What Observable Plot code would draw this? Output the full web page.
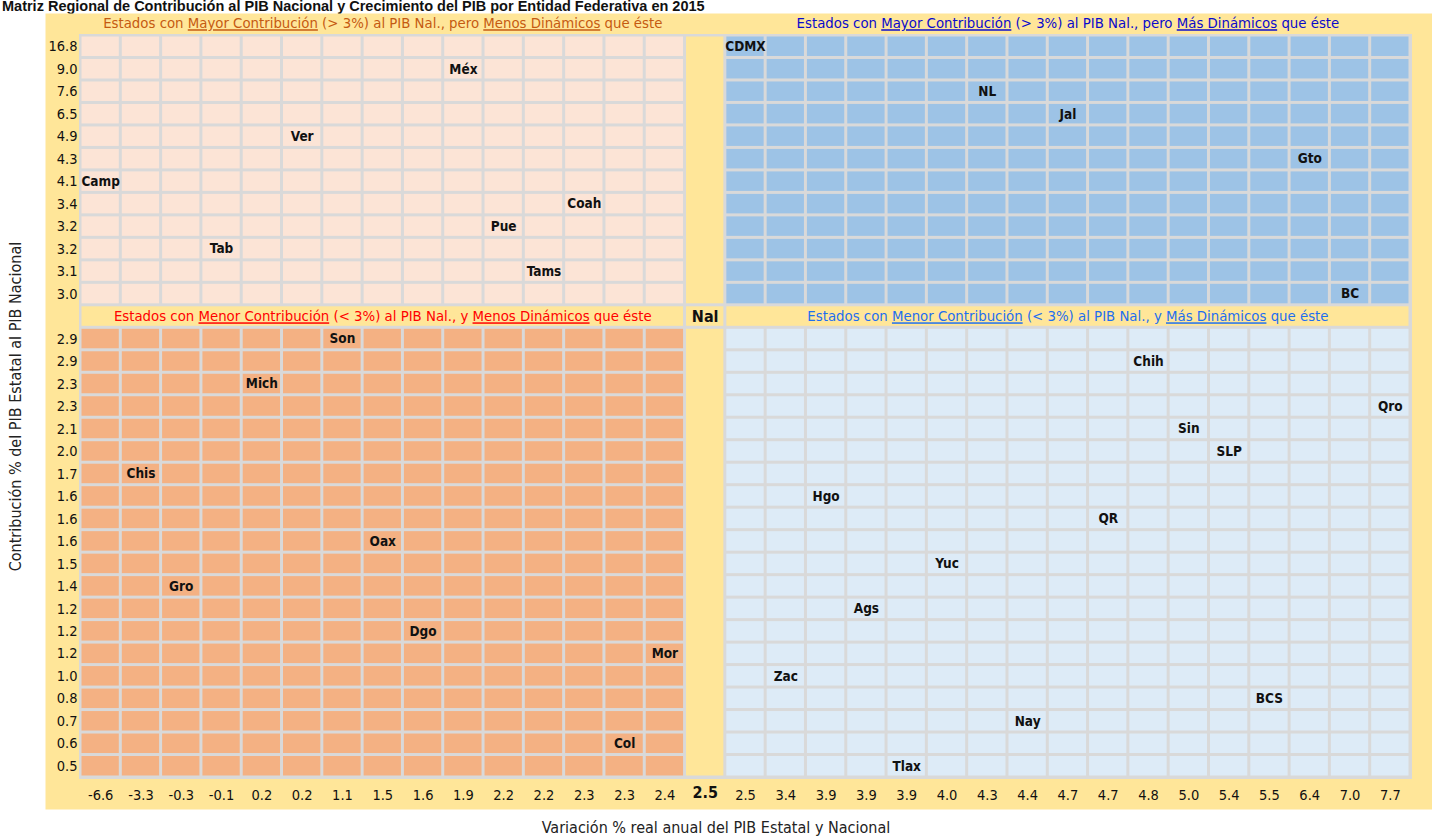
<!DOCTYPE html>
<html>
<head>
<meta charset="utf-8">
<script src="https://cdn.jsdelivr.net/npm/d3@7"></script>
<script src="https://cdn.jsdelivr.net/npm/@observablehq/plot@0.6"></script>
<style>
  html, body { margin: 0; padding: 0; background: #fff; }
  body { width: 1432px; height: 838px; overflow: hidden; font-family: "Liberation Sans Narrow", "DejaVu Sans Condensed", "Roboto", sans-serif; }
  #title { font-family: "Liberation Sans", Arial, sans-serif; font-weight: bold; font-size: 14.5px; line-height: 13px; height: 13px; padding-left: 2px; color: #111; white-space: nowrap; }
  #xtitle { text-align: center; font-size: 16px; line-height: 21px; height: 21px; color: #222; }
  svg { display: block; }
</style>
</head>
<body>
<div id="title">Matriz Regional de Contribución al PIB Nacional y Crecimiento del PIB por Entidad Federativa en 2015</div>
<div id="chart"></div>
<div id="xtitle">Variación % real anual del PIB Estatal y Nacional</div>
<script>
// Columns: states ordered by real annual growth (Nal = national)
const colStates = ["Camp","Chis","Gro","Tab","Mich","Ver","Son","Oax","Dgo","Méx","Pue","Tams","Coah","Col","Mor","Nal","CDMX","Zac","Hgo","Ags","Tlax","Yuc","NL","Nay","Jal","QR","Chih","Sin","SLP","BCS","Gto","BC","Qro"];
const growth = [-6.6,-3.3,-0.3,-0.1,0.2,0.2,1.1,1.5,1.6,1.9,2.2,2.2,2.3,2.3,2.4,2.5,2.5,3.4,3.9,3.9,3.9,4.0,4.3,4.4,4.7,4.7,4.8,5.0,5.4,5.5,6.4,7.0,7.7];
// Rows: states ordered by contribution to national GDP
const rowStates = ["CDMX","Méx","NL","Jal","Ver","Gto","Camp","Coah","Pue","Tab","Tams","BC","Nal","Son","Chih","Mich","Qro","Sin","SLP","Chis","Hgo","QR","Oax","Yuc","Gro","Ags","Dgo","Mor","Zac","BCS","Nay","Col","Tlax"];
const contribution = [16.8,9.0,7.6,6.5,4.9,4.3,4.1,3.4,3.2,3.2,3.1,3.0,null,2.9,2.9,2.3,2.3,2.1,2.0,1.7,1.6,1.6,1.6,1.5,1.4,1.2,1.2,1.2,1.0,0.8,0.7,0.6,0.5];
const nationalGrowth = 2.5;
const headers = {
  topLeft: "Estados con _Mayor Contribución_ (> 3%) al PIB Nal., pero _Menos Dinámicos_ que éste",
  topRight: "Estados con _Mayor Contribución_ (> 3%) al PIB Nal., pero _Más Dinámicos_ que éste",
  bottomLeft: "Estados con _Menor Contribución_ (< 3%) al PIB Nal., y _Menos Dinámicos_ que éste",
  bottomRight: "Estados con _Menor Contribución_ (< 3%) al PIB Nal., y _Más Dinámicos_ que éste"
};
const yTitle = "Contribución % del PIB Estatal al PIB Nacional";

const NC = colStates.length, NR = rowStates.length;
const nalCol = colStates.indexOf("Nal"), nalRow = rowStates.indexOf("Nal");

const cells = [];
for (let i = 0; i < NC; i++) for (let j = 0; j < NR; j++) {
  if (i === nalCol || j === nalRow) continue;
  const q = (j < nalRow ? "top" : "bottom") + (i < nalCol ? "Left" : "Right");
  cells.push({i, j, q});
}
const fills = {topLeft: "#FCE4D6", topRight: "#9DC3E6", bottomLeft: "#F4B183", bottomRight: "#DDEBF7"};
const strips = [
  {x1: 0, x2: nalCol, y1: nalRow, y2: nalRow + 1},
  {x1: nalCol, x2: nalCol + 1, y1: nalRow, y2: nalRow + 1},
  {x1: nalCol + 1, x2: NC, y1: nalRow, y2: nalRow + 1},
  {x1: nalCol, x2: nalCol + 1, y1: 0, y2: nalRow},
  {x1: nalCol, x2: nalCol + 1, y1: nalRow + 1, y2: NR}
];
const labels = colStates.filter(s => s !== "Nal").map(s => ({s, i: colStates.indexOf(s), j: rowStates.indexOf(s)}));
const xTicks = d3.range(NC).filter(i => i !== nalCol).map(i => i + 0.5);
const yTicks = d3.range(NR).filter(j => j !== nalRow).map(j => j + 0.5);

const hdr = [
  {k: "topLeft", x: nalCol / 2, y: 0, dy: -12, color: "#C55A11"},
  {k: "topRight", x: (nalCol + 1 + NC) / 2, y: 0, dy: -12, color: "#0A0ACC"},
  {k: "bottomLeft", x: nalCol / 2, y: nalRow + 0.5, dy: 0, color: "#FF0000"},
  {k: "bottomRight", x: (nalCol + 1 + NC) / 2, y: nalRow + 0.5, dy: 0, color: "#1E6EF0"}
];

const font = "'Liberation Sans Narrow', 'DejaVu Sans Condensed', Roboto, sans-serif";
const chart = Plot.plot({
  width: 1432, height: 804,
  marginLeft: 80, marginRight: 22, marginTop: 22, marginBottom: 40,
  x: {type: "linear", domain: [0, NC], axis: null},
  y: {type: "linear", domain: [0, NR], reverse: true, axis: null},
  style: {fontFamily: font, background: "transparent", color: "#111"},
  marks: [
    Plot.frame({fill: "#FFE699", stroke: null, insetLeft: -35, insetRight: -22, insetTop: -22, insetBottom: -32}),
    Plot.frame({fill: "#D9D9D9", stroke: null, insetLeft: -1.5, insetRight: -1.5, insetTop: -1.5, insetBottom: -1.5}),
    Plot.rect(cells, {x1: d => d.i, x2: d => d.i + 1, y1: d => d.j, y2: d => d.j + 1, fill: d => fills[d.q], inset: 1.5}),
    Plot.rect(strips, {x1: "x1", x2: "x2", y1: "y1", y2: "y2", fill: "#FFE699", inset: 1.5}),
    Plot.text(labels, {x: d => d.i + 0.5, y: d => d.j + 0.5, text: "s", fontWeight: "bold", fontSize: 13.5, fill: "#111"}),
    Plot.text(["Nal"], {x: nalCol + 0.5, y: nalRow + 0.5, text: d => d, fontWeight: "bold", fontSize: 16, fill: "#111"}),
    ...hdr.map(h => Plot.text([h], {x: "x", y: "y", dy: h.dy, text: d => headers[d.k], fill: h.color, fontSize: 14.8})),
    Plot.axisX(xTicks, {tickSize: 0, tickPadding: 12, fontSize: 14.5, label: null, fill: "#111", tickFormat: t => growth[Math.floor(t)].toFixed(1)}),
    Plot.text([nationalGrowth], {x: nalCol + 0.5, frameAnchor: "bottom", dy: 20, text: d => d.toFixed(1), fontWeight: "bold", fontSize: 16, fill: "#111"}),
    Plot.axisY(yTicks, {tickSize: 0, tickPadding: 3, fontSize: 14.5, label: null, fill: "#111", tickFormat: t => contribution[Math.floor(t)].toFixed(1)}),
    Plot.text([yTitle], {frameAnchor: "left", dx: -65, rotate: -90, textAnchor: "middle", text: d => d, fontSize: 16, fill: "#222"})
  ]
});
document.getElementById("chart").appendChild(chart);

// underline the emphasized words in the panel headers
const svgNS = "http://www.w3.org/2000/svg";
chart.querySelectorAll("text").forEach(t => {
  const s = t.textContent;
  if (!s.includes("_")) return;
  const parts = s.split("_");
  t.textContent = "";
  parts.forEach((p, k) => {
    const ts = document.createElementNS(svgNS, "tspan");
    ts.textContent = p;
    if (k % 2) ts.setAttribute("style", "text-decoration: underline; text-decoration-thickness: 1.5px;");
    t.appendChild(ts);
  });
});
</script>
</body>
</html>
